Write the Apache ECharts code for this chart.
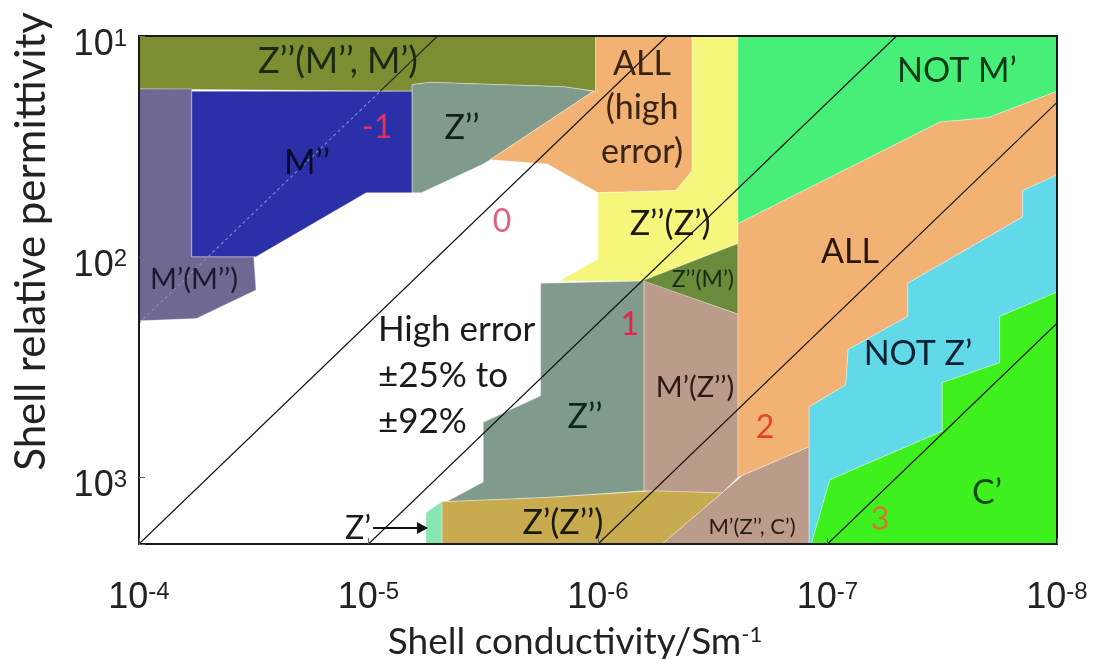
<!DOCTYPE html>
<html><head><meta charset="utf-8">
<script src="https://cdn.jsdelivr.net/npm/echarts@6/dist/echarts.min.js"></script>
<style>html,body{margin:0;padding:0;background:#fff}#c{width:1094px;height:659px}</style>
</head><body><div id="c"></div>
<script>
// ---- axes (log scales) ----
const sigmaRange = [1e-8, 1e-4];      // Shell conductivity / S m^-1 (axis reversed)
const epsRange = [10, 2000];          // Shell relative permittivity (axis reversed)
const xTickExps = [-4, -5, -6, -7, -8];
const yTickExps = [1, 2, 3];

// ---- regions: vertices as [log10 sigma, log10 eps] ----
const regZppMppMp = [[-4,1],[-5.99,1],[-5.99,1.25],[-5.85,1.23],[-5.27,1.21],[-5.19,1.22],[-5.19,1.25],[-4,1.24]];
const regMpMpp = [[-4,1.24],[-4.23,1.24],[-4.23,2.00],[-4.50,2.00],[-4.51,2.15],[-4.25,2.28],[-4,2.29]];
const regMpp = [[-4.23,1.25],[-5.19,1.25],[-5.19,1.71],[-4.99,1.71],[-4.51,2.00],[-4.23,2.00]];
const regZppUpper = [[-5.19,1.22],[-5.27,1.21],[-5.85,1.23],[-5.98,1.25],[-5.53,1.56],[-5.50,1.58],[-5.23,1.71],[-5.19,1.71]];
const regAllHigh = [[-5.99,1],[-6.41,1],[-6.41,1.61],[-6.34,1.70],[-6.00,1.71],[-5.78,1.58],[-5.53,1.56],[-5.98,1.25],[-5.99,1.25]];
const regZppZp = [[-6.41,1],[-6.61,1],[-6.61,1.94],[-6.19,2.11],[-5.83,2.11],[-6.00,2.01],[-6.00,1.71],[-6.34,1.70],[-6.41,1.61]];
const regNotMp = [[-6.61,1],[-8,1],[-8,1.25],[-7.70,1.37],[-7.49,1.39],[-6.61,1.85]];
const regZppMp = [[-6.19,2.11],[-6.61,1.94],[-6.61,2.26]];
const regMpZpp = [[-6.20,2.11],[-6.61,2.26],[-6.61,3.00],[-6.54,3.07],[-6.20,3.06]];
const regZppLower = [[-5.75,2.12],[-6.20,2.11],[-6.20,3.06],[-5.78,3.09],[-5.32,3.11],[-5.25,3.16],[-5.50,3.02],[-5.50,2.75],[-5.75,2.63]];
const regZpZpp = [[-5.32,3.11],[-5.78,3.09],[-6.24,3.06],[-6.54,3.07],[-6.28,3.301],[-5.32,3.301]];
const regZp = [[-5.25,3.16],[-5.32,3.11],[-5.32,3.301],[-5.25,3.301]];
const regMpZppCp = [[-6.28,3.301],[-6.54,3.07],[-6.63,2.99],[-6.92,2.86],[-6.92,3.301]];
const regAll = [[-6.61,1.85],[-7.49,1.39],[-7.70,1.37],[-8,1.25],[-8,1.63],[-7.85,1.70],[-7.85,1.82],[-7.80,1.85],[-7.35,2.12],[-7.35,2.27],[-7.09,2.42],[-7.08,2.58],[-6.92,2.68],[-6.92,2.86],[-6.63,2.99],[-6.61,3.00]];
const regNotZp = [[-8,1.63],[-7.85,1.70],[-7.85,1.82],[-7.80,1.85],[-7.35,2.12],[-7.35,2.27],[-7.09,2.42],[-7.08,2.58],[-6.92,2.68],[-6.92,3.301],[-6.93,3.301],[-7.01,3.01],[-7.50,2.79],[-7.50,2.57],[-7.75,2.48],[-7.75,2.27],[-8,2.16]];
const regCp = [[-6.93,3.301],[-7.01,3.01],[-7.50,2.79],[-7.50,2.57],[-7.75,2.48],[-7.75,2.27],[-8,2.16],[-8,3.301]];

// ---- constant eps/sigma lines: endpoints [sigma, eps] ----
const line0a = [[1e-4, 200], [8.9e-6, 17.8]];
const line0b = [[8.9e-6, 17.8], [5e-6, 10]];
const line1 = [[1e-4, 2000], [5e-7, 10]];
const line2 = [[1e-5, 2000], [5e-8, 10]];
const line3 = [[1e-6, 2000], [1e-8, 20]];
const line4 = [[1e-7, 2000], [1e-8, 200]];

// ---- annotation texts with anchors [log10 sigma, log10 eps] ----
const annTexts = ['Z’’(M’’, M’)','M’’','-1','Z’’','M’(M’’)','ALL\n(high\nerror)','0','Z’’(Z’)','Z’’(M’)','1',
  'High error\n±25% to\n±92%','Z’’','M’(Z’’)','2','Z’(Z’’)','M’(Z’’, C’)','Z’','NOT M’','ALL','NOT Z’','C’','3'];
const annAnchors = [[-4.867,1.113],[-4.732,1.575],[-5.037,1.417],[-5.407,1.417],[-4.240,2.105],[-6.192,1.326],[-5.582,1.842],[-6.314,1.851],[-6.457,2.105],[-6.139,2.309],
  [-5.041,2.540],[-5.943,2.726],[-6.423,2.594],[-6.728,2.775],[-5.847,3.206],[-6.671,3.224],[-4.954,3.233],[-7.564,1.159],[-7.098,1.978],[-7.394,2.440],[-7.695,3.070],[-7.229,3.192]];
const arrowZp = [[-5.020,3.228],[-5.259,3.228]];

// ---- styles ----
const regionStyles = [
  [regZppMppMp,'#7d8e32'],[regMpMpp,'#6f6892'],[regMpp,'#2b30a9'],[regZppUpper,'#809a8b'],
  [regAllHigh,'#f1b274'],[regZppZp,'#f6f67c'],[regNotMp,'#47ee78'],[regZppMp,'#6b8b3c'],
  [regMpZpp,'#bb9b8a'],[regZppLower,'#809a8b'],[regZpZpp,'#c9ab4f'],[regZp,'#88e6b4'],
  [regMpZppCp,'#bb9b8a'],[regAll,'#f1b274'],[regNotZp,'#62d9e8'],[regCp,'#3ff01f']
];
const annStyles = [
  {s:36,c:'#1a2a10'},{s:34,c:'#0a0a2a'},{s:32,c:'#e8305c'},{s:34,c:'#10201a'},{s:29,c:'#1a1a2a'},
  {s:34,c:'#3a2412',lh:44},{s:32,c:'#e0607c'},{s:34,c:'#1a1a08'},{s:23,c:'#1a2a10'},{s:32,c:'#e8204c'},
  {s:35,c:'#1a1a1a',lh:46,a:'left'},{s:34,c:'#0a2a18'},{s:29,c:'#2a1a14'},{s:32,c:'#e8402a'},{s:34,c:'#1a1a08'},
  {s:22,c:'#2a1a14'},{s:32,c:'#1a1a1a'},{s:34,c:'#0a3a18'},{s:34,c:'#2a1608'},{s:34,c:'#0a2030'},{s:34,c:'#0a4a0a'},{s:32,c:'#d07a28'}
];

const P = p => [Math.pow(10, p[0]), Math.pow(10, p[1])];

const series = [];
regionStyles.forEach(([pts, color]) => {
  series.push({
    type: 'custom', silent: true, clip: true, z: 2,
    data: [P(pts[0])],
    renderItem: (params, api) => ({
      type: 'polygon',
      shape: { points: pts.map(p => api.coord(P(p))) },
      style: { fill: color, stroke: 'rgba(255,255,255,0.35)', lineWidth: 1 }
    })
  });
});
[[line0a,'rgba(150,150,200,0.9)',[3,3]],[line0b,'#222','solid'],[line1,'#111','solid'],[line2,'#111','solid'],[line3,'#111','solid'],[line4,'#111','solid']].forEach(([d,c,t]) => {
  series.push({ type: 'line', data: d, symbol: 'none', silent: true, z: 5, clip: true,
    lineStyle: { color: c, width: 1.1, type: t } });
});
series.push({
  type: 'custom', silent: true, z: 8,
  data: annAnchors.map((a, i) => [...P(a), i]),
  renderItem: (params, api) => {
    const i = params.dataIndex;
    const st = annStyles[i];
    const pt = api.coord(P(annAnchors[i]));
    return { type: 'text', x: pt[0], y: pt[1],
      style: { text: annTexts[i], fill: st.c, fontSize: st.s, fontFamily: 'Lato',
        align: st.a || 'center', verticalAlign: 'middle', lineHeight: st.lh || st.s } };
  }
});
series.push({
  type: 'custom', silent: true, z: 8,
  data: [P(arrowZp[0])],
  renderItem: (params, api) => {
    const a = api.coord(P(arrowZp[0])), b = api.coord(P(arrowZp[1]));
    return { type: 'group', children: [
      { type: 'line', shape: { x1: a[0], y1: a[1], x2: b[0] - 8, y2: b[1] }, style: { stroke: '#111', lineWidth: 2 } },
      { type: 'polygon', shape: { points: [[b[0], b[1]], [b[0] - 11, b[1] - 6], [b[0] - 11, b[1] + 6]] }, style: { fill: '#111' } }
    ]};
  }
});

const supFmt = v => {
  const e = Math.log10(v), r = Math.round(e);
  if (Math.abs(e - r) > 1e-6) return '';
  return '{b|10}{s|' + r + '}';
};
const tickRich = {
  b: { fontSize: 36, fontFamily: 'Liberation Sans', color: '#222', lineHeight: 36, padding: [16, 0, 0, 0], verticalAlign: 'bottom' },
  s: { fontSize: 24, fontFamily: 'Liberation Sans', color: '#222', lineHeight: 24, verticalAlign: 'top' }
};
const boxLine = { show: true, lineStyle: { color: '#1a1a1a', width: 2 } };

const option = {
  animation: false,
  backgroundColor: '#fff',
  grid: { left: 139, right: 37, top: 36, bottom: 115, containLabel: false, outerBoundsMode: 'none' },
  graphic: [{
    type: 'text', left: 10, top: 12, rotation: Math.PI / 2, silent: true,
    style: { text: 'Shell relative permittivity', fontSize: 42, fontFamily: 'Lato', fill: '#222' }
  }],
  xAxis: [
    { type: 'log', min: sigmaRange[0], max: sigmaRange[1], inverse: true, z: 10,
      axisLine: boxLine, splitLine: { show: false },
      axisTick: { show: true, inside: true, length: 6, lineStyle: { color: '#666' } },
      axisLabel: { formatter: supFmt, rich: tickRich, margin: 36 },
      name: '{a|Shell conductivity/Sm}{s|-1}', nameLocation: 'middle', nameGap: 80,
      nameTextStyle: { padding: [0, 46, 0, 0], rich: {
        a: { fontSize: 37, fontFamily: 'Lato', color: '#222', lineHeight: 37, verticalAlign: 'bottom' },
        s: { fontSize: 22, fontFamily: 'Lato', color: '#222', lineHeight: 22, verticalAlign: 'top' } } } },
    { type: 'log', min: sigmaRange[0], max: sigmaRange[1], inverse: true, position: 'top', z: 10,
      axisLine: boxLine, axisTick: { show: false }, axisLabel: { show: false }, splitLine: { show: false } }
  ],
  yAxis: [
    { type: 'log', min: epsRange[0], max: epsRange[1], inverse: true, z: 10,
      axisLine: boxLine, splitLine: { show: false },
      axisTick: { show: true, inside: true, length: 6, lineStyle: { color: '#666' } },
      axisLabel: { formatter: supFmt, rich: tickRich, margin: 12, padding: [18, 0, 0, 0] } },
    { type: 'log', min: epsRange[0], max: epsRange[1], inverse: true, position: 'right', z: 10,
      axisLine: boxLine, axisTick: { show: false }, axisLabel: { show: false }, splitLine: { show: false } }
  ],
  series
};
const chart = echarts.init(document.getElementById('c'), null, { renderer: 'canvas' });
chart.setOption(option);
</script></body></html>
